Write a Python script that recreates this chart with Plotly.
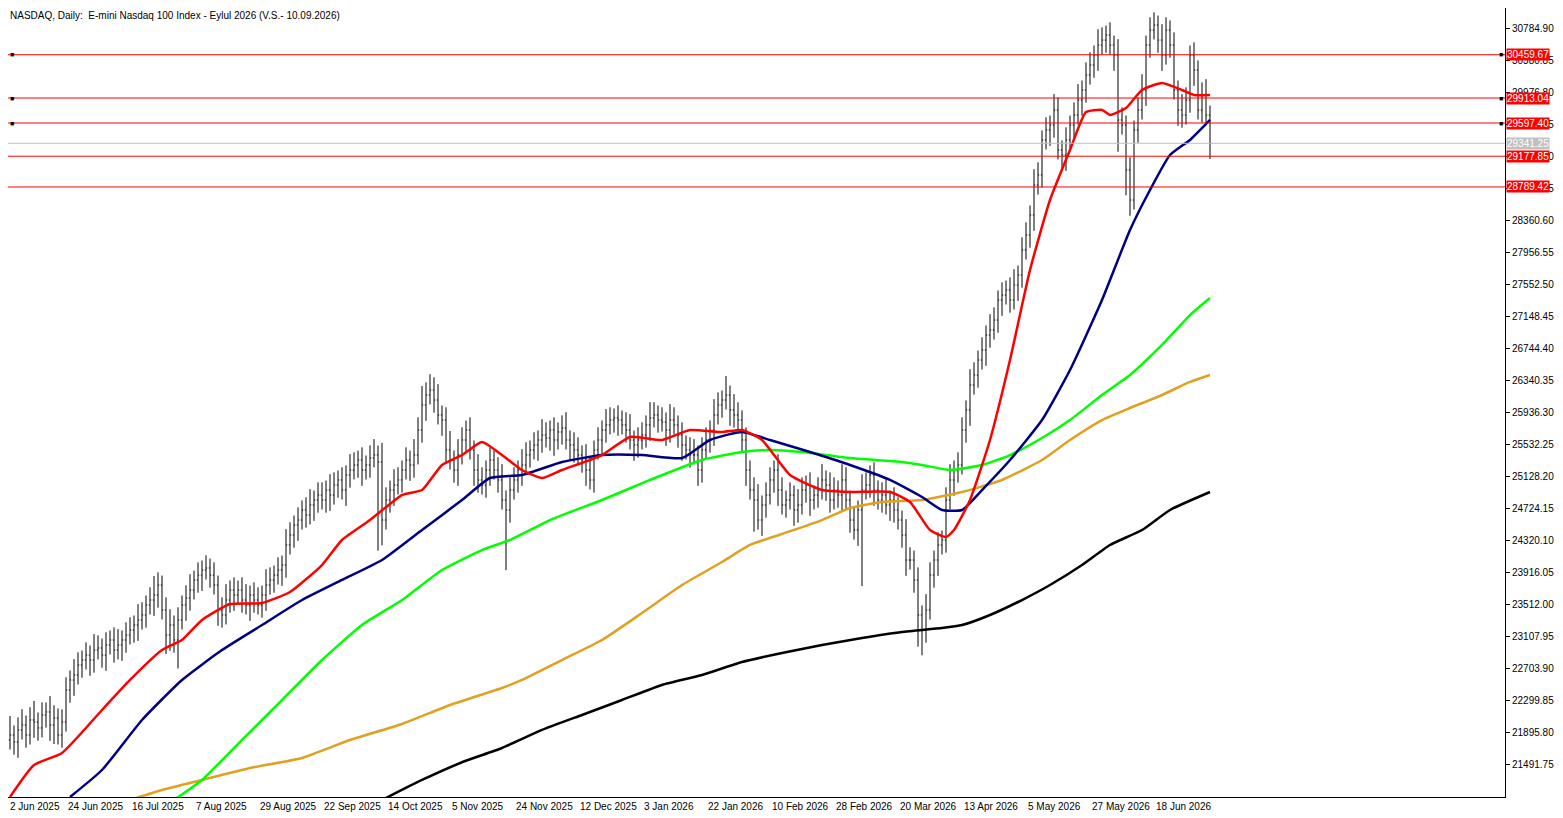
import plotly.graph_objects as go

close = [21704,21805,21868,21780,21931,21994,21868,22058,22032,21957,22121,22159,21994,22083,21868,22032,
22436,22563,22626,22752,22815,22878,22815,22942,22967,22878,23005,23068,22942,23005,23068,23131,
23194,23257,23320,23384,23510,23573,23636,23762,23447,23131,23257,23068,23320,23510,23598,23699,
23825,23888,23952,23977,23888,23762,23447,23384,23573,23699,23636,23699,23573,23510,23636,23573,
23510,23636,23762,23825,23888,23952,24015,24268,24394,24520,24583,24710,24647,24773,24836,24899,
24836,24962,24899,25025,25089,24962,25152,25215,25278,25341,25215,25278,25367,25405,25316,24583,
24836,24962,25025,25089,25215,25341,25278,25405,25720,26036,26162,26225,26099,25910,25847,25468,
25341,25215,25405,25594,25720,25468,25215,25089,25025,25215,25341,25215,25089,24836,24710,24962,
25089,25215,25278,25405,25468,25531,25594,25657,25619,25720,25594,25695,25745,25594,25531,25468,
25405,25341,25215,25089,25468,25594,25720,25784,25847,25872,25847,25784,25720,25594,25531,25594,
25657,25784,25872,25910,25847,25821,25720,25847,25784,25657,25531,25468,25405,25405,25215,25468,
25594,25720,25910,26036,26099,26162,25973,25910,25847,25594,25215,24962,24836,24583,24773,24899,
25089,25215,24962,24773,24836,24899,24710,24773,24962,25025,24836,24899,24962,25089,25025,24836,
24962,24899,25089,24836,24583,24457,24710,24962,25025,25152,24962,24836,24899,24773,24836,24710,
24583,24394,24078,24078,23825,23384,23194,23447,23889,24078,24268,24331,24836,25089,25215,25278,
25720,25973,26288,26415,26604,26731,26920,26983,27109,27362,27425,27488,27362,27551,27677,27993,
28183,28436,28814,28941,29383,29509,29572,29762,29257,29193,29383,29572,29698,29888,30014,30203,
30330,30456,30582,30645,30709,30582,30456,29635,29572,29004,28625,29509,29762,30014,30582,30772,
30835,30645,30456,30772,30582,30014,29762,29698,29888,30456,30267,29762,29951,29698,29341]

wick_up = [3,4,6,3,4,5,3,4,6,3,4,3,5,4,3,4,
4,3,5,4,3,4,3,5,4,3,4,3,4,5,3,4,
4,3,5,4,3,4,6,4,3,4,5,3,4,3,4,5,
3,4,3,4,3,4,3,4,5,3,4,3,4,5,3,4,
4,3,5,4,3,4,3,5,4,3,4,3,4,5,3,4,
4,3,5,4,3,4,3,5,4,3,4,3,4,5,3,6,
4,3,5,4,3,4,3,5,4,6,4,5,4,5,3,4,
6,3,5,4,3,4,3,5,4,3,4,3,4,5,3,4,
4,3,5,4,3,4,3,5,4,3,4,3,4,5,3,4,
4,3,5,4,3,4,3,5,4,3,4,3,4,5,3,4,
4,3,5,4,3,4,3,5,4,3,4,3,4,5,3,4,
4,3,5,4,3,6,3,5,4,3,4,3,4,5,3,4,
4,3,5,4,3,4,3,5,4,3,4,3,4,5,3,4,
4,3,5,4,3,4,3,5,4,3,4,3,4,5,3,4,
4,3,5,4,3,4,3,5,4,3,4,3,4,5,3,4,
4,3,5,4,3,4,3,5,4,3,4,3,4,5,3,4,
4,3,5,4,3,4,3,5,4,3,4,3,4,5,3,4,
4,3,5,4,3,4,3,5,4,3,4,3,4,5,3,4,
4,3,5,4,3,4,3,5,4,3,4,3,4,5,3]

wick_dn = [4,5,3,4,5,3,4,3,5,4,3,4,5,6,3,4,
3,4,5,3,4,3,5,4,3,4,5,3,4,3,5,4,
3,4,5,3,4,3,5,4,3,6,5,4,9,3,5,4,
3,4,5,3,4,3,5,4,3,4,5,3,4,3,5,4,
3,4,5,3,4,3,5,4,3,4,5,3,4,3,5,4,
3,4,5,3,4,3,5,4,3,4,5,3,4,3,28,8,
3,4,5,3,4,3,5,4,3,4,5,3,4,3,5,4,
3,4,5,3,4,3,5,4,3,4,5,3,4,3,19,4,
3,4,5,3,4,3,5,4,3,4,5,3,4,3,5,4,
3,4,5,3,4,3,5,4,3,4,5,3,4,3,5,4,
3,4,5,3,4,3,5,4,3,4,5,3,4,3,5,4,
3,4,5,3,4,3,5,4,3,4,5,3,10,3,5,4,
3,4,5,3,4,3,5,4,3,4,5,3,4,3,5,4,
3,4,5,3,4,3,5,24,3,4,5,3,4,3,5,4,
3,4,5,3,4,10,8,4,3,4,5,3,4,3,5,4,
3,4,5,3,4,3,5,4,3,4,5,3,4,3,5,4,
3,4,5,3,4,3,5,4,3,4,5,3,4,3,5,4,
3,4,5,3,4,3,5,10,3,8,5,3,4,3,5,4,
3,4,5,3,4,3,5,4,3,4,5,3,4,3,5]

red_x = [2,8,15,25,32,40,45,50,57,65,72,80,85,92,100,105,110,115,120,125,130,135,140,150,157,165,172,180,185,190,197,205,212,222,227,232,236,238,242,247,252,257,262,267,271,275,277,281,285,290,295,298,302]
red_y = [21085,21489,21641,22184,22563,22941,23068,23320,23522,23535,23674,24015,24331,24583,24899,24962,25278,25404,25569,25404,25215,25114,25215,25404,25632,25594,25720,25695,25720,25594,25152,24962,24937,24937,24811,24457,24369,24457,24836,25594,26604,27741,28625,29257,29736,29762,29699,29787,30014,30103,30014,29951,29951]
navy_x = [17,25,35,45,55,65,75,85,95,105,115,122,130,140,150,160,170,177,185,192,202,212,222,230,235,240,245,252,260,267,275,282,287,292,297,302]
navy_y = [21085,21426,22058,22563,22941,23257,23573,23826,24078,24457,24836,25114,25152,25316,25404,25404,25366,25594,25695,25594,25442,25278,25089,24874,24710,24710,24962,25341,25846,26478,27362,28246,28751,29193,29383,29636]
green_x = [43,50,60,70,80,90,100,110,120,127,137,150,162,175,185,192,200,212,225,230,237,245,252,260,267,275,282,290,297,302]
green_y = [21047,21300,21805,22310,22815,23257,23573,23952,24204,24331,24583,24836,25089,25341,25442,25468,25442,25366,25316,25278,25215,25278,25404,25619,25846,26162,26415,26794,27172,27387]
orange_x = [32,40,50,62,75,87,100,112,125,130,140,150,160,170,180,187,195,205,212,220,230,240,250,260,267,275,282,290,297,302]
orange_y = [21047,21173,21300,21451,21578,21805,22007,22247,22462,22563,22815,23068,23409,23762,24053,24268,24407,24583,24735,24811,24836,24937,25089,25341,25594,25846,25998,26162,26327,26415]
black_x = [95,105,115,125,135,145,155,165,175,185,195,205,215,225,235,240,247,255,262,270,277,285,292,302]
black_y = [21047,21300,21524,21704,21932,22121,22310,22500,22626,22790,22904,23005,23093,23169,23220,23257,23384,23573,23762,24015,24268,24457,24710,24937]

date_labels = ["2 Jun 2025","24 Jun 2025","16 Jul 2025","7 Aug 2025","29 Aug 2025","22 Sep 2025","14 Oct 2025","5 Nov 2025","24 Nov 2025","12 Dec 2025","3 Jan 2026","22 Jan 2026","10 Feb 2026","28 Feb 2026","20 Mar 2026","13 Apr 2026","5 May 2026","27 May 2026","18 Jun 2026"]
price_ticks = [21491.75,21895.80,22299.85,22703.90,23107.95,23512.00,23916.05,24320.10,24724.15,25128.20,25532.25,25936.30,26340.35,26744.40,27148.45,27552.50,27956.55,28360.60,28764.65,29168.70,29572.75,29976.80,30380.85,30784.90]
levels = [30459.67,29913.04,29597.40,29341.25,29177.85,28789.42]
level_colors = ["red","red","red","#c0c0c0","red","red"]
level_marked = [True,True,True,False,False,False]

FONT = "Liberation Sans"
X0, X1 = 1.5, 375.75
n = len(close)
idx = list(range(n))
opens = [close[0]-50] + close[:-1]
highs = [max(o,c)+u*40 for o,c,u in zip(opens,close,wick_up)]
lows = [min(o,c)-d*40 for o,c,d in zip(opens,close,wick_dn)]

fig = go.Figure()
for xs, ys, col, w in [(black_x,black_y,"black",2.5),(orange_x,orange_y,"#e0a020",2.5),(green_x,green_y,"#00ff00",2.5),(navy_x,navy_y,"#000080",2.5),(red_x,red_y,"#ff0000",2.5)]:
    fig.add_trace(go.Scatter(x=xs, y=ys, mode="lines", line=dict(color=col, width=w, shape="spline", smoothing=0.5), hoverinfo="skip"))
fig.add_trace(go.Ohlc(x=idx, open=opens, high=highs, low=lows, close=close,
    increasing=dict(line=dict(color="black", width=1)), decreasing=dict(line=dict(color="black", width=1)), tickwidth=0.3))

for lv, col, mk in zip(levels, level_colors, level_marked):
    fig.add_shape(type="line", xref="paper", x0=0, x1=1, y0=lv, y1=lv, line=dict(color=col, width=1))
    fig.add_annotation(xref="paper", x=1.0, y=lv, text=f"{lv:.2f}", showarrow=False, xanchor="left", xshift=1,
        bgcolor=col, font=dict(color="white", size=10, family=FONT), borderpad=0)
    if mk:
        for xp, xa in ((0.0, "left"), (1.0, "right")):
            fig.add_annotation(xref="paper", x=xp, y=lv, text="■", showarrow=False, xanchor=xa, font=dict(size=7, color="black"))

for k, lab in enumerate(date_labels):
    xp = max(0.0, (k*16 - X0) / (X1 - X0))
    fig.add_annotation(xref="paper", x=xp, yref="paper", y=0, text=lab, showarrow=False, xanchor="left", yanchor="top",
        yshift=-2, font=dict(size=10, color="black", family=FONT))

fig.add_annotation(xref="paper", yref="paper", x=0.0, y=1.0, text="NASDAQ, Daily:  E-mini Nasdaq 100 Index - Eylul 2026 (V.S.- 10.09.2026)",
    showarrow=False, xanchor="left", yanchor="top", font=dict(size=10, color="black", family=FONT))

fig.update_layout(width=1555, height=810, margin=dict(l=0, r=58, t=0, b=21, autoexpand=False), showlegend=False,
    plot_bgcolor="white", paper_bgcolor="white", font=dict(family=FONT, size=10, color="black"))
fig.update_xaxes(range=[X0, X1], showticklabels=False,
    showgrid=False, zeroline=False, rangeslider=dict(visible=False), showline=True, linecolor="black", mirror=True, ticks="", automargin=False)
fig.update_yaxes(range=[21085, 31050], side="right", tickvals=price_ticks, ticktext=[f"{t:.2f}" for t in price_ticks],
    showgrid=False, zeroline=False, showline=True, linecolor="black", mirror=True, ticks="outside", ticklen=4, tickcolor="black", automargin=False)
fig.write_html("out.html")
